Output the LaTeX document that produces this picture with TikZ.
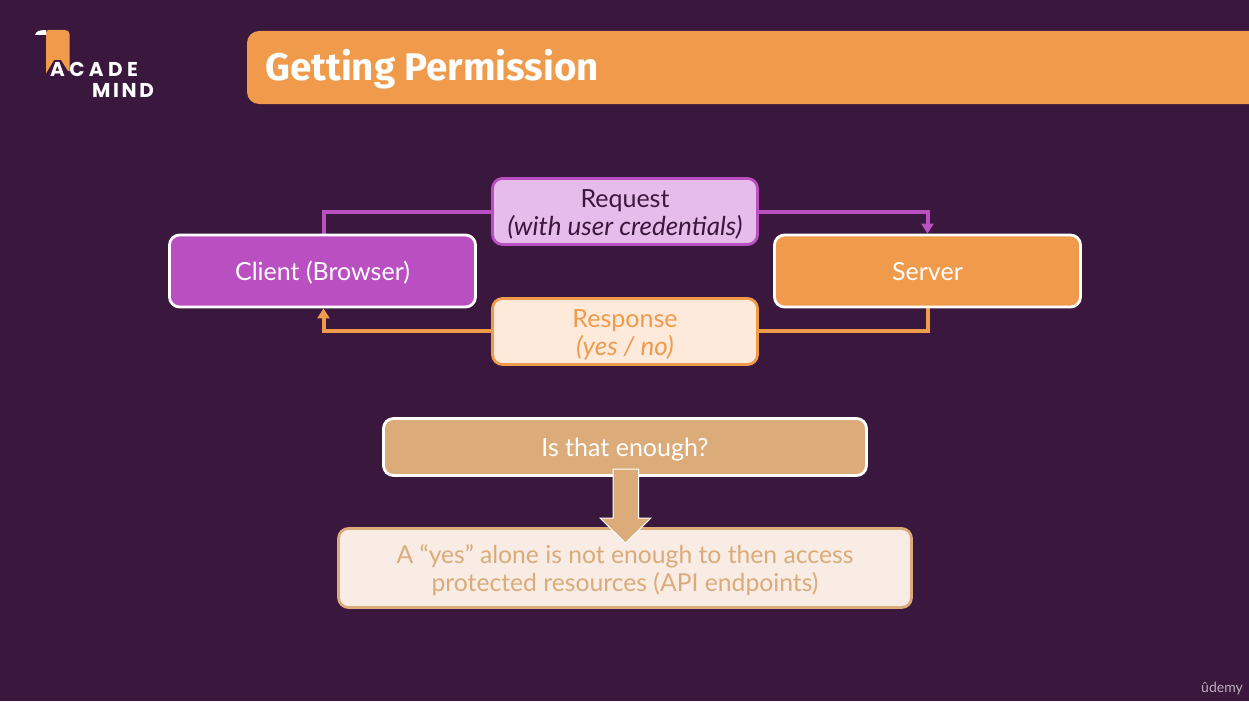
\documentclass[tikz,border=0pt]{standalone}
\usepackage{fontspec}
\setmainfont{Lato}
\newfontfamily\titlefont{Fira Sans}
\newfontfamily\logofont[LetterSpace=22]{Poppins}
\newfontfamily\logofontb[LetterSpace=13]{Poppins}
\usetikzlibrary{backgrounds,arrows.meta}
\definecolor{bgc}{HTML}{3A183D}
\definecolor{orangec}{HTML}{F09A4B}
\definecolor{purplec}{HTML}{B94FC0}
\definecolor{reqfill}{HTML}{E6BDEA}
\definecolor{respfill}{HTML}{FDEADB}
\definecolor{tanc}{HTML}{DBAB7A}
\definecolor{creamc}{HTML}{F8ECE4}
\newcommand{\itl}{\itshape\fontsize{26}{28}\selectfont}
\newcommand{\lowr}[1]{\raisebox{-3.5pt}[18pt][6pt]{#1}}
\tikzset{
  x=1pt,y=-1pt,
  box/.style={rounded corners=10pt,line width=2.8pt,anchor=center,align=center,inner sep=0pt,
    font=\fontsize{25}{28}\selectfont},
  mainbox/.style={box,draw=white,text=white,minimum width=306pt,minimum height=72pt},
  reqbox/.style={box,draw=purplec,fill=reqfill,text=bgc,minimum width=265pt,minimum height=66pt},
  respbox/.style={box,draw=orangec,fill=respfill,text=orangec,minimum width=265pt,minimum height=66pt},
  conn/.style={line width=4pt},
  tip/.style={-{Triangle[length=10pt,width=12pt]}},
}
\begin{document}
\begin{tikzpicture}
\useasboundingbox (0,0) rectangle (1249,701);
\begin{scope}[on background layer]
\fill[bgc] (0,0) rectangle (1249,701);
\end{scope}
% logo
\fill[orangec] (46,33) .. controls (46,31) and (47,30) .. (49,30) -- (65,30)
  .. controls (68,30) and (69.5,32) .. (69.5,34) -- (69.5,71) -- (68,71) -- (61,60) -- (54,60) -- (46,73.5) -- cycle;
\fill[white] (35,35) .. controls (36,31.5) and (39,30) .. (46,30) -- (46,35) -- cycle;
\node[anchor=west,inner sep=0pt,text=white,font=\logofont\bfseries\fontsize{20}{20}\selectfont] (acade) at (50,69) {ACADE};
\node[anchor=west,inner sep=0pt,text=white,font=\logofontb\bfseries\fontsize{20}{20}\selectfont] (mind) at (92,90.5) {MIND};
% title bar
\fill[orangec,rounded corners=12pt] (247,31) -- (1262,31) -- (1262,104) -- (247,104) -- cycle;
\node[anchor=west,inner sep=0pt,text=white,font=\titlefont\bfseries\fontsize{38.5}{40}\selectfont] (title) at (265,69.5) {Getting Permission};
% flow
\node[mainbox,fill=purplec] (client) at (322.5,271) {\lowr{Client (Browser)}};
\node[mainbox,fill=orangec] (server) at (927.5,271) {\lowr{Server}};
\node[reqbox] (req) at (625,211.5) {\lowr{Request}\\\lowr{\itl (with user credentials)}};
\node[respbox] (resp) at (625,331.5) {\lowr{Response}\\\lowr{\itl (yes / no)}};
\begin{scope}[on background layer]
\draw[conn,purplec] (req.west) -| ([xshift=1pt]client.north);
\draw[conn,purplec,tip] (req.east) -| (server.north);
\draw[conn,orangec] ([yshift=1pt]resp.east) -| (server.south);
\draw[conn,orangec,tip] ([yshift=1pt]resp.west) -| ([xshift=1pt]client.south);
\end{scope}
% lower
\node[box,draw=white,fill=tanc,text=white,minimum width=483pt,minimum height=57pt] (q) at (625,447) {\lowr{Is that enough?}};
\node[box,draw=tanc,fill=creamc,text=tanc,minimum width=573pt,minimum height=79pt,font=\fontsize{24.7}{28}\selectfont] (a) at (625,568) {\lowr{A “yes” alone is not enough to then access}\\\lowr{protected resources (API endpoints)}};
\draw[white,line width=1pt,fill=tanc] (613,469) -- (638.5,469) -- (638.5,518) -- (651,518) -- (625.5,543) -- (600,518) -- (613,518) -- cycle;
% watermark
\node[anchor=east,inner sep=0pt,text=white!65!bgc,font=\fontsize{14}{14}\selectfont] (udemy) at (1243,688.5) {ûdemy};
\end{tikzpicture}
\end{document}
